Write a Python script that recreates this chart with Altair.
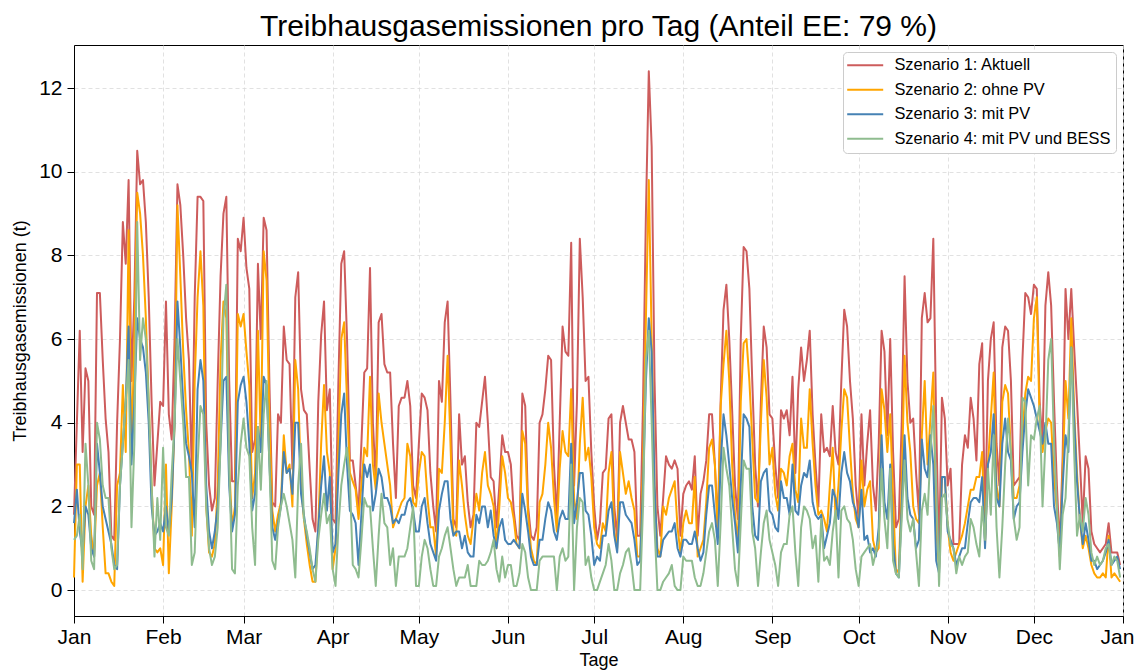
import altair as alt
import pandas as pd

FONT = "Liberation Sans"

names = ["Szenario 1: Aktuell", "Szenario 2: ohne PV", "Szenario 3: mit PV", "Szenario 4: mit PV und BESS"]
colors = ["#cd5c5c", "#ffa500", "#4682b4", "#8fbc8f"]
month_days = [0, 31, 59, 90, 120, 151, 181, 212, 243, 273, 304, 334, 365]
month_labels = ["Jan", "Feb", "Mar", "Apr", "May", "Jun", "Jul", "Aug", "Sep", "Oct", "Nov", "Dec", "Jan"]
y_ticks = [0, 2, 4, 6, 8, 10, 12]

# daily emissions (t), day 0 = 1 Jan
s1 = [1.8, 4.0, 6.2, 3.3, 5.3, 5.0, 2.0, 1.8, 7.1, 7.1, 5.5, 4.1, 3.3, 1.3, 1.2, 4.0, 6.0, 8.8, 7.8, 9.8, 5.0, 7.0, 10.5, 9.7, 9.8, 8.8, 7.0, 4.5, 2.5, 3.5, 4.5, 4.4, 6.9, 4.2, 3.6, 6.0,
      9.7, 9.2, 8.0, 6.5, 5.5, 2.8, 7.0, 9.4, 9.4, 9.3, 4.0, 2.5, 1.9, 2.2, 5.0, 7.5, 9.0, 9.4, 5.0, 2.6, 2.6, 8.4, 8.1, 8.9, 7.7, 7.2, 3.3, 3.6, 7.8, 6.0, 8.9, 8.6, 4.9, 2.1, 2.0, 4.2, 4.0,
      6.3, 5.5, 5.4, 2.9, 7.0, 7.6, 4.8, 4.3, 4.2, 2.9, 1.7, 1.4, 4.5, 6.1, 6.9, 4.3, 4.8, 1.7, 1.6, 5.0, 7.8, 8.1, 6.0, 3.1, 3.1, 2.5, 1.9, 3.5, 5.2, 5.3, 7.7, 4.0, 2.6, 6.4, 6.6, 5.4, 5.2,
      5.2, 3.5, 2.2, 4.4, 4.6, 4.6, 5.0, 4.4, 2.5, 2.2, 3.5, 4.7, 4.6, 4.3, 2.8, 2.0, 1.4, 5.0, 4.5, 6.4, 6.9, 4.5, 1.7, 1.5, 4.2, 3.0, 3.2, 2.1, 1.5, 1.8, 4.0, 3.9, 4.5, 5.1, 4.0,
      2.7, 2.6, 1.5, 2.5, 3.7, 3.3, 3.3, 3.0, 1.9, 1.3, 1.2, 4.7, 4.4, 2.0, 1.3, 1.2, 1.5, 4.0, 4.2, 4.8, 5.6, 5.5, 3.0, 1.7, 4.0, 6.3, 5.7, 5.6, 8.3, 2.5, 4.5, 8.4, 7.0, 5.0, 5.1, 3.3, 2.0,
      1.2, 1.6, 2.8, 2.9, 4.1, 4.2, 2.0, 1.2, 4.0, 4.4, 4.0, 3.6, 3.6, 3.3, 1.3, 1.3, 4.5, 9.0, 12.4, 10.6, 5.0, 2.0, 1.3, 2.2, 3.2, 3.0, 2.9, 3.1, 2.9, 1.3, 2.3, 2.5, 2.6, 2.4, 3.2, 1.3,
      2.3, 2.6, 3.1, 4.2, 4.2, 3.0, 1.5, 4.5, 6.7, 7.3, 6.0, 4.3, 2.5, 1.7, 6.0, 8.2, 8.1, 7.2, 5.0, 3.0, 2.0, 4.5, 6.3, 5.8, 4.2, 4.1, 3.0, 2.2, 4.3, 4.1, 4.3, 3.7, 5.1, 2.8, 4.8, 5.8, 5.0, 5.5,
      6.2, 4.2, 3.0, 2.0, 4.2, 3.3, 3.4, 3.2, 4.4, 3.3, 3.0, 5.0, 6.7, 6.3, 5.0, 4.1, 2.5, 1.7, 4.2, 2.5, 3.5, 4.3, 2.5, 1.9, 3.5, 6.2, 5.7, 3.7, 6.0, 3.3, 1.5, 1.7, 4.0, 7.5, 5.0, 4.0,
      4.1, 2.8, 1.8, 6.5, 7.1, 6.4, 6.5, 8.4, 4.0, 0.8, 4.6, 4.1, 2.5, 2.9, 1.1, 1.1, 1.1, 3.0, 3.7, 3.4, 4.6, 4.1, 3.1, 5.4, 5.9, 1.5, 5.0, 6.0, 6.4, 3.5, 2.5, 5.8, 6.3, 6.2, 5.0, 2.5,
      2.6, 2.7, 5.5, 7.1, 7.0, 6.6, 7.3, 7.2, 4.5, 3.5, 6.8, 7.6, 6.8, 4.5, 2.5, 1.0, 3.2, 7.2, 6.0, 7.2, 5.8, 4.5, 3.1, 1.6, 3.2, 2.9, 1.4, 1.1, 1.0, 0.9, 1.0, 1.1, 1.6, 0.9, 0.9, 0.9, 0.6]

s2 = [0.3, 3.0, 3.0, 0.2, 2.0, 2.5, 1.3, 0.8, 2.5, 2.8, 1.5, 0.4, 0.4, 0.2, 0.1, 2.5, 2.8, 4.9, 3.3, 8.6, 3.3, 6.0, 9.5, 9.0, 8.0, 6.5, 4.5, 2.5, 1.0, 0.9, 1.0, 0.6, 3.0, 0.4, 2.0, 4.0,
      9.2, 7.5, 5.7, 4.3, 3.3, 1.3, 5.0, 7.0, 8.1, 6.8, 2.0, 0.9, 0.8, 1.1, 2.5, 5.5, 6.9, 6.5, 3.0, 1.5, 2.0, 6.6, 6.3, 6.6, 5.7, 4.9, 2.2, 2.8, 6.2, 3.5, 8.1, 7.4, 4.0, 1.9, 1.4, 1.8, 2.1,
      3.7, 2.8, 3.0, 2.0, 5.5, 4.8, 2.5, 1.7, 1.1, 0.6, 0.2, 0.2, 1.5, 3.5, 4.9, 3.3, 2.8, 0.5, 1.0, 3.5, 6.0, 6.4, 4.5, 2.8, 2.6, 2.4, 1.7, 2.5, 3.4, 3.2, 5.1, 3.0, 2.4, 4.7, 4.0, 3.5, 3.0,
      2.5, 1.5, 1.7, 1.9, 2.1, 2.2, 3.5, 3.2, 2.1, 2.0, 2.8, 3.3, 3.2, 2.2, 1.5, 1.5, 0.8, 2.9, 2.8, 4.0, 5.6, 3.5, 1.4, 1.3, 3.1, 2.5, 1.8, 1.3, 1.1, 1.7, 2.3, 1.9, 2.8, 3.3, 2.5,
      2.3, 2.0, 1.0, 2.0, 3.2, 2.8, 2.2, 2.1, 1.7, 1.1, 1.0, 3.8, 3.5, 1.8, 1.0, 0.7, 0.6, 2.1, 2.3, 3.0, 4.0, 3.4, 2.2, 1.4, 2.9, 3.8, 3.3, 3.2, 4.8, 2.2, 1.7, 3.5, 4.6, 3.1, 3.4, 2.7, 1.5,
      1.1, 1.0, 1.6, 1.4, 2.8, 3.3, 1.4, 1.0, 3.3, 2.8, 2.3, 2.6, 2.2, 1.9, 0.8, 0.8, 3.0, 6.5, 9.8, 6.0, 2.5, 1.0, 0.8, 2.0, 1.8, 2.2, 2.4, 2.6, 1.5, 0.9, 1.6, 1.9, 1.6, 1.6, 2.7, 0.8,
      1.0, 1.2, 2.1, 3.4, 3.6, 3.0, 1.3, 4.4, 5.4, 6.2, 5.0, 3.0, 1.8, 1.1, 4.5, 5.9, 6.0, 5.0, 3.6, 2.2, 2.1, 4.0, 5.5, 4.6, 3.0, 3.4, 2.3, 1.9, 2.9, 2.8, 2.5, 3.2, 3.5, 2.4, 2.1, 4.1, 3.4, 3.4,
      4.8, 3.5, 2.5, 1.8, 1.9, 1.7, 1.4, 2.5, 3.4, 1.7, 2.5, 3.8, 4.8, 4.6, 3.4, 2.3, 1.7, 1.5, 3.1, 2.0, 2.4, 2.6, 1.2, 0.9, 1.0, 4.8, 4.3, 3.3, 4.2, 2.2, 0.4, 0.5, 2.5, 5.6, 4.0, 3.3,
      2.0, 1.7, 1.6, 3.7, 5.0, 3.0, 4.1, 5.2, 1.5, 0.5, 2.7, 2.7, 1.5, 0.9, 0.7, 0.9, 1.1, 1.3, 1.6, 2.0, 2.4, 2.4, 2.7, 2.7, 3.3, 1.1, 3.0, 4.1, 5.2, 2.5, 2.0, 4.5, 4.9, 4.7, 3.3, 2.2,
      2.2, 2.5, 3.7, 4.7, 5.1, 5.0, 6.5, 7.0, 4.0, 3.3, 3.8, 4.1, 4.0, 2.7, 1.9, 0.8, 2.8, 5.0, 4.1, 6.5, 4.3, 2.8, 1.7, 1.0, 1.3, 1.0, 0.6, 0.4, 0.3, 0.3, 0.4, 0.3, 1.3, 0.3, 0.4, 0.3, 0.2]

s3 = [1.6, 2.4, 1.4, 0.9, 2.0, 1.8, 1.0, 0.8, 3.5, 2.8, 2.0, 1.7, 1.4, 1.1, 0.6, 0.5, 2.5, 3.5, 4.5, 6.3, 3.0, 4.5, 6.5, 6.0, 5.8, 5.2, 4.0, 2.0, 1.3, 1.4, 1.6, 1.4, 2.0, 1.4, 2.2, 4.0,
      6.9, 5.8, 4.5, 3.5, 3.2, 2.8, 1.5, 4.8, 5.5, 5.0, 2.5, 1.4, 1.0, 1.4, 2.0, 3.5, 5.0, 5.1, 2.5, 1.4, 1.8, 4.5, 4.9, 5.1, 4.5, 3.5, 1.9, 2.3, 3.9, 3.3, 5.1, 4.9, 3.0, 1.5, 1.2, 1.6, 2.0,
      3.3, 2.8, 2.9, 2.3, 4.0, 4.0, 2.3, 1.8, 1.3, 0.9, 0.5, 0.6, 1.5, 2.5, 3.2, 1.9, 2.7, 0.9, 1.1, 2.8, 4.2, 4.7, 3.0, 1.9, 1.8, 1.6, 0.6, 1.8, 3.0, 2.7, 3.0, 1.9, 2.3, 2.9, 2.7, 2.2, 2.2,
      2.0, 1.6, 1.7, 1.6, 1.8, 1.8, 2.1, 2.2, 1.9, 1.4, 1.4, 2.0, 2.2, 1.6, 1.1, 0.9, 0.7, 1.9, 2.3, 2.6, 2.6, 1.7, 1.3, 1.4, 1.4, 1.0, 1.3, 0.9, 0.8, 0.8, 1.8, 1.6, 2.0, 2.0, 1.5,
      1.9, 1.3, 1.0, 1.5, 1.7, 1.2, 1.1, 1.1, 1.2, 1.1, 1.0, 2.3, 1.9, 1.4, 0.8, 0.6, 0.6, 1.2, 1.2, 1.7, 2.1, 1.9, 1.4, 1.2, 1.7, 1.9, 1.7, 1.7, 3.5, 1.6, 2.1, 2.8, 2.8, 1.9, 1.8, 1.3, 0.6,
      0.8, 0.7, 1.3, 1.3, 1.9, 2.1, 1.3, 0.9, 2.1, 2.1, 1.8, 1.7, 1.6, 1.2, 0.6, 0.7, 2.5, 5.0, 6.5, 5.7, 2.5, 0.8, 0.8, 1.2, 1.3, 1.4, 1.4, 1.6, 1.0, 0.8, 1.2, 1.2, 1.1, 1.1, 1.4, 1.0,
      0.7, 0.9, 1.8, 2.5, 2.5, 1.8, 1.1, 3.0, 4.2, 3.7, 3.0, 2.2, 1.6, 0.9, 2.5, 4.2, 4.1, 3.9, 2.0, 1.3, 1.2, 2.6, 2.8, 2.9, 1.9, 1.8, 1.5, 1.4, 2.6, 2.2, 2.2, 1.8, 3.0, 1.9, 1.8, 2.5, 2.8, 2.7,
      3.1, 2.1, 1.8, 1.7, 1.8, 1.0, 1.3, 1.6, 2.4, 2.2, 1.7, 2.8, 3.3, 2.8, 2.6, 2.1, 1.9, 1.5, 2.4, 1.2, 1.3, 0.9, 1.0, 0.8, 1.5, 3.7, 2.1, 1.7, 3.0, 1.1, 0.4, 0.3, 2.0, 3.7, 2.2, 1.8,
      1.7, 1.0, 1.2, 3.6, 2.9, 2.7, 3.7, 3.0, 0.7, 0.4, 2.7, 2.7, 1.4, 1.2, 1.0, 0.6, 0.8, 1.0, 1.0, 1.6, 2.1, 2.2, 2.2, 2.1, 2.7, 1.0, 3.0, 3.3, 4.2, 2.2, 2.0, 3.5, 4.1, 3.3, 3.1, 1.7,
      2.0, 2.1, 3.3, 4.2, 4.8, 4.6, 4.4, 4.1, 3.8, 3.5, 4.0, 3.5, 3.5, 2.0, 1.6, 0.9, 2.5, 3.7, 3.3, 5.8, 4.1, 2.6, 1.7, 1.1, 1.6, 1.2, 0.7, 0.7, 0.5, 0.6, 0.7, 0.9, 1.2, 0.6, 0.7, 0.8, 0.5]

s4 = [1.2, 1.3, 1.8, 0.5, 3.5, 2.5, 0.7, 0.5, 4.0, 3.6, 2.5, 2.2, 2.2, 1.0, 0.5, 0.6, 2.5, 3.5, 4.5, 5.5, 1.5, 3.5, 8.8, 5.5, 6.5, 6.0, 4.5, 2.5, 0.8, 2.2, 1.2, 3.4, 1.5, 1.3, 2.8, 4.0,
      6.0, 5.0, 4.0, 2.7, 2.7, 0.6, 0.9, 3.0, 4.4, 4.2, 2.0, 1.0, 0.6, 0.8, 1.5, 3.5, 6.5, 7.3, 3.0, 0.5, 0.4, 2.5, 3.5, 4.1, 3.4, 3.2, 1.5, 0.6, 3.9, 2.4, 4.2, 5.0, 3.0, 0.7, 0.5, 1.5, 2.0,
      2.3, 2.0, 1.6, 1.2, 0.3, 2.5, 3.5, 1.7, 1.4, 1.0, 0.5, 0.2, 1.2, 1.8, 2.3, 1.6, 1.8, 0.5, 0.1, 1.5, 2.5, 3.0, 3.4, 2.6, 0.6, 0.5, 0.3, 1.2, 2.2, 2.0, 2.0, 1.0, 0.1, 1.3, 2.3, 1.6, 1.5,
      0.6, 1.0, 0.1, 0.8, 0.8, 0.8, 1.0, 1.5, 2.0, 0.1, 0.1, 0.8, 1.2, 1.0, 0.5, 0.1, 0.1, 0.8, 1.0, 1.3, 1.5, 1.0, 0.5, 0.1, 0.3, 0.3, 0.3, 0.6, 0.1, 0.1, 0.1, 0.7, 0.6, 0.6, 0.7,
      0.9, 1.2, 0.5, 0.2, 0.8, 0.3, 0.6, 0.6, 0.1, 0.1, 0.4, 1.1, 0.9, 0.3, 0.0, 0.0, 0.0, 0.7, 0.8, 0.8, 0.8, 0.8, 0.8, 0.0, 0.8, 1.0, 0.7, 0.8, 3.0, 0.0, 1.5, 2.2, 2.1, 0.6, 0.8, 0.3, 0.0,
      0.0, 0.2, 0.4, 0.6, 1.1, 0.7, 0.0, 0.0, 0.4, 0.6, 0.9, 1.0, 0.6, 0.0, 0.0, 0.0, 2.0, 5.5, 6.2, 4.0, 1.5, 0.0, 0.0, 0.2, 0.3, 0.4, 0.6, 0.1, 0.0, 0.0, 0.8, 0.7, 0.7, 0.7, 0.3, 0.1,
      0.1, 0.4, 0.9, 1.4, 1.6, 1.2, 0.1, 1.6, 3.4, 2.9, 2.5, 1.5, 0.5, 0.1, 1.6, 3.1, 2.9, 2.9, 1.4, 1.0, 0.1, 0.9, 1.6, 1.9, 1.2, 0.9, 0.6, 0.1, 0.9, 1.1, 1.1, 1.8, 2.0, 0.9, 0.1, 1.5, 2.0, 1.9,
      1.7, 1.0, 1.3, 0.2, 1.7, 0.7, 0.8, 0.6, 1.4, 1.9, 0.3, 1.9, 2.0, 1.7, 1.6, 1.2, 0.5, 0.1, 0.8, 0.9, 1.0, 1.1, 0.6, 0.9, 1.2, 2.9, 1.7, 1.0, 2.9, 0.7, 0.4, 0.3, 1.7, 3.1, 1.7, 1.4,
      1.7, 0.9, 0.1, 1.9, 2.3, 1.8, 3.3, 4.4, 2.5, 0.1, 2.2, 2.3, 1.6, 1.1, 1.0, 0.4, 0.8, 0.6, 0.8, 0.9, 1.7, 1.5, 1.1, 0.8, 2.0, 1.2, 2.9, 1.8, 3.7, 1.5, 0.3, 1.5, 3.0, 4.1, 3.3, 1.7,
      1.2, 1.5, 4.6, 4.5, 2.5, 3.7, 3.6, 4.1, 4.4, 2.0, 3.5, 5.5, 6.0, 3.5, 2.0, 0.5, 1.8, 2.2, 3.7, 5.8, 3.3, 1.3, 1.8, 1.4, 2.2, 1.8, 0.9, 0.6, 0.8, 0.6, 0.7, 1.0, 1.1, 0.6, 0.8, 0.7, 0.3]

rows = []
for name, vals in zip(names, [s1, s2, s3, s4]):
    for i, v in enumerate(vals):
        rows.append({"Tag": i, "Wert": v, "Szenario": name})
df = pd.DataFrame(rows)

label_expr = "[" + ",".join("'%s'" % m for m in month_labels) + "][indexof([" + \
    ",".join(str(d) for d in month_days) + "], datum.value)]"

chart = alt.Chart(df).mark_line(strokeWidth=2, strokeJoin="round").encode(
    x=alt.X("Tag:Q",
            scale=alt.Scale(domain=[0, 365], nice=False, zero=False),
            axis=alt.Axis(values=month_days, labelExpr=label_expr, title="Tage",
                          labelFlush=False, labelPadding=3, titlePadding=4,
                          labelOffset={"expr": "datum.value == 365 ? -6 : 0"})),
    y=alt.Y("Wert:Q",
            scale=alt.Scale(domain=[-0.62, 13.03], nice=False, zero=False),
            axis=alt.Axis(values=y_ticks, format="d", title="Treibhausgasemissionen (t)",
                          labelPadding=5, titlePadding=9)),
    color=alt.Color("Szenario:N", title=None,
                    scale=alt.Scale(domain=names, range=colors),
                    legend=alt.Legend(orient="top-right", offset=7, padding=5,
                                      fillColor="white", strokeColor="#cccccc", cornerRadius=4,
                                      labelFont=FONT, labelFontSize=16.4, labelColor="black",
                                      labelLimit=400,
                                      symbolType="M-3.6,0H3.6", symbolSize=100,
                                      symbolStrokeWidth=2, symbolOffset=9, labelOffset=21,
                                      rowPadding=7.5)),
).properties(
    width=1049, height=571,
    title=alt.TitleParams("Treibhausgasemissionen pro Tag (Anteil EE: 79 %)"),
    padding={"left": 66, "top": 37, "right": 13, "bottom": 56},
    autosize=alt.AutoSizeParams(type="none"),
).configure(
    font=FONT, background="white"
).configure_view(
    stroke="black", strokeWidth=1
).configure_axis(
    domainColor="black", tickColor="black", labelColor="black", titleColor="black",
    tickSize=7, labelFontSize=21, titleFontSize=18, titleFontWeight="normal",
    labelFont=FONT, titleFont=FONT,
    gridColor="#d9d9d9", gridDash=[4, 3], gridWidth=0.8
).configure_title(
    fontSize=30, font=FONT, fontWeight="normal", color="black", anchor="middle", offset=3
)

chart.save("out.html", embed_options={"renderer": "svg", "actions": False})
